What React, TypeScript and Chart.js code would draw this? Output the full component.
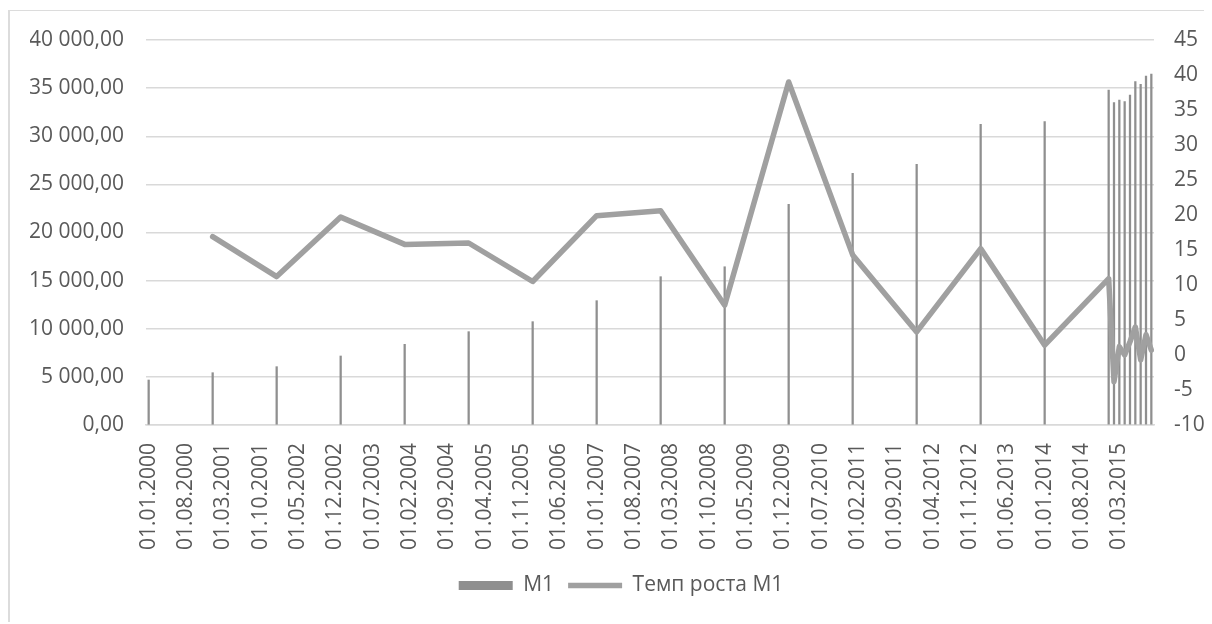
import React, { useEffect, useRef } from "react";
import { Chart, registerables } from "chart.js";

Chart.register(...registerables);

// Dates of the observations (dd.mm.yyyy)
const pointDates: string[] = [
  "01.01.2000", "01.01.2001", "01.01.2002", "01.01.2003", "01.01.2004",
  "01.01.2005", "01.01.2006", "01.01.2007", "01.01.2008", "01.01.2009",
  "01.01.2010", "01.01.2011", "01.01.2012", "01.01.2013", "01.01.2014",
  "01.01.2015", "01.02.2015", "01.03.2015", "01.04.2015", "01.05.2015",
  "01.06.2015", "01.07.2015", "01.08.2015", "01.09.2015",
];

// M1 (left axis)
const m1Values: number[] = [
  4675, 5434, 6060, 7169, 8384,
  9697, 10736, 12917, 15410, 16442,
  22930, 26150, 27085, 31240, 31515,
  34805, 33486, 33766, 33590, 34286,
  35670, 35394, 36260, 36468,
];

// Темп роста M1 (right axis)
const growthValues: (number | null)[] = [
  null, 16.9, 11.2, 19.7, 15.8,
  16.0, 10.5, 19.9, 20.6, 7.1,
  39.0, 14.3, 3.3, 15.2, 1.4,
  10.9, -3.8, 1.2, 0.0, 1.9,
  4.0, -0.7, 2.9, 0.7,
];

// Axis tick labels
const tickLabels: string[] = [
  "01.01.2000", "01.08.2000", "01.03.2001", "01.10.2001", "01.05.2002",
  "01.12.2002", "01.07.2003", "01.02.2004", "01.09.2004", "01.04.2005",
  "01.11.2005", "01.06.2006", "01.01.2007", "01.08.2007", "01.03.2008",
  "01.10.2008", "01.05.2009", "01.12.2009", "01.07.2010", "01.02.2011",
  "01.09.2011", "01.04.2012", "01.11.2012", "01.06.2013", "01.01.2014",
  "01.08.2014", "01.03.2015",
];

const leftTicks = { min: 0, max: 40000, step: 5000 };
const rightTicks = { min: -10, max: 45, step: 5 };

function monthIndex(d: string): number {
  const [, mm, yyyy] = d.split(".").map(Number);
  return (yyyy - 2000) * 12 + (mm - 1);
}

function fmtLeft(v: number): string {
  const s = Math.round(v).toString().replace(/\B(?=(\d{3})+(?!\d))/g, " ");
  return s + ",00";
}

const TEXT = "#595959";
const GRID = "#d9d9d9";
const FONT = "'Open Sans', sans-serif";

export default function App() {
  const ref = useRef<HTMLCanvasElement | null>(null);

  useEffect(() => {
    document.body.style.overflow = "hidden";
    document.documentElement.style.overflow = "hidden";
    const canvas = ref.current;
    if (!canvas) return;
    const xs = pointDates.map(monthIndex);
    const tickPos = tickLabels.map(monthIndex);

    const chart = new Chart(canvas, {
      type: "bar",
      data: {
        datasets: [
          {
            type: "line",
            label: "Темп роста M1",
            data: xs.map((x, i) => ({ x, y: growthValues[i] })) as any,
            yAxisID: "y1",
            borderColor: "#a0a0a0",
            backgroundColor: "#a0a0a0",
            borderWidth: 5.5,
            borderCapStyle: "round",
            borderJoinStyle: "round",
            pointRadius: 0,
            pointStyle: "line",
            tension: 0,
            order: 0,
          } as any,
          {
            type: "bar",
            label: "M1",
            data: xs.map((x, i) => ({ x, y: m1Values[i] })) as any,
            yAxisID: "y",
            backgroundColor: "#8f8f8f",
            borderWidth: 0,
            barThickness: 1.6,
            pointStyle: "rect",
            order: 1,
          } as any,
        ],
      },
      options: {
        responsive: false,
        animation: false,
        maintainAspectRatio: false,
        layout: { padding: { top: 29, bottom: 18, left: 20, right: 0 } },
        plugins: {
          tooltip: { enabled: false },
          legend: {
            position: "bottom",
            reverse: true,
            labels: {
              usePointStyle: true,
              pointStyleWidth: 54,
              boxHeight: 9,
              padding: 14,
              color: TEXT,
              font: { family: FONT, size: 21 },
            },
          },
        },
        scales: {
          x: {
            type: "linear",
            offset: false,
            min: -0.5,
            max: xs[xs.length - 1] + 0.5,
            grid: { display: false, offset: false },
            border: { display: true, color: GRID, width: 1.5 },
            afterBuildTicks: (scale: any) => {
              scale.ticks = tickPos.map((v) => ({ value: v }));
            },
            afterFit: (scale: any) => {
              scale.height = 136;
            },
            ticks: {
              autoSkip: false,
              minRotation: 90,
              maxRotation: 90,
              padding: 10,
              color: TEXT,
              font: { family: FONT, size: 21 },
              callback: (_v: any, i: number) => tickLabels[i],
            },
          },
          y: {
            position: "left",
            min: leftTicks.min,
            max: leftTicks.max,
            grid: {
              color: GRID,
              lineWidth: 1.5,
              drawTicks: true,
              tickLength: 22,
              tickColor: "rgba(0,0,0,0)",
            },
            border: { display: false },
            afterFit: (scale: any) => {
              scale.width = 116;
            },
            ticks: {
              stepSize: leftTicks.step,
              padding: 0,
              color: TEXT,
              font: { family: FONT, size: 21 },
              callback: (v: any) => fmtLeft(Number(v)),
            },
          },
          y1: {
            position: "right",
            min: rightTicks.min,
            max: rightTicks.max,
            grid: {
              drawOnChartArea: false,
              drawTicks: true,
              tickLength: 20,
              tickColor: "rgba(0,0,0,0)",
            },
            border: { display: false },
            afterFit: (scale: any) => {
              scale.width = 58;
            },
            ticks: {
              stepSize: rightTicks.step,
              padding: 0,
              color: TEXT,
              font: { family: FONT, size: 21 },
            },
          },
        },
      } as any,
    });
    return () => chart.destroy();
  }, []);

  return (
    <div
      style={{
        position: "relative",
        top: 2,
        width: 1202,
        height: 613,
        borderLeft: "2px solid #dcdcdc",
        borderTop: "1px solid #dcdcdc",
        background: "#ffffff",
      }}
    >
      <canvas ref={ref} width={1202} height={613} style={{ display: "block" }} />
    </div>
  );
}
